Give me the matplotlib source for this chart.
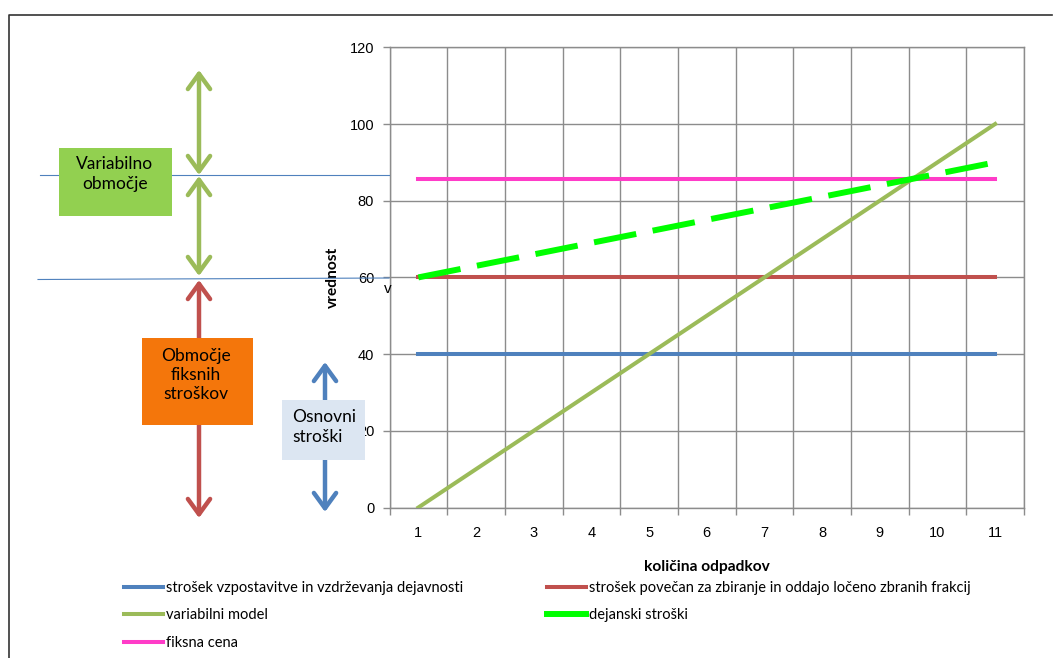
import matplotlib.pyplot as plt
from matplotlib.lines import Line2D
from matplotlib.patches import Rectangle

plt.rcParams['font.family'] = ['Lato', 'DejaVu Sans']

# podatki
kolicina = [1, 2, 3, 4, 5, 6, 7, 8, 9, 10, 11]
strosek_osnovni = [40, 40, 40, 40, 40, 40, 40, 40, 40, 40, 40]
strosek_locene = [60, 60, 60, 60, 60, 60, 60, 60, 60, 60, 60]
variabilni = [0, 10, 20, 30, 40, 50, 60, 70, 80, 90, 100]
dejanski = [60, 63, 66, 69, 72, 75, 78, 81, 84, 87, 90]
fiksna = [85.7, 85.7, 85.7, 85.7, 85.7, 85.7, 85.7, 85.7, 85.7, 85.7, 85.7]
y_ticks = [0, 20, 40, 60, 80, 100, 120]

c_modra = '#4F81BD'
c_rdeca = '#C0504D'
c_zelena = '#9BBB59'
c_svetlo = '#00FF00'
c_roza = '#FF3CC8'
c_mreza = '#8C8C8C'

W, H = 1053, 658
fig = plt.figure(figsize=(W / 100, H / 100), dpi=100)
ax = fig.add_axes([389.5 / W, 1 - 507.5 / H, (1024 - 389.5) / W, (507.5 - 47.3) / H])

ax.plot(kolicina, strosek_osnovni, color=c_modra, lw=2.9, zorder=3)
ax.plot(kolicina, strosek_locene, color=c_rdeca, lw=2.9, zorder=3)
ax.plot(kolicina, variabilni, color=c_zelena, lw=2.9, zorder=3)
ax.plot(kolicina, dejanski, color=c_svetlo, lw=4.3, dashes=(7.2, 2.8),
        dash_capstyle='butt', zorder=4)
ax.plot(kolicina, fiksna, color=c_roza, lw=2.9, zorder=3)

ax.set_xlim(0.5, 11.5)
ax.set_ylim(0, 120)
ax.set_yticks(y_ticks)
ax.set_xticks(kolicina)
ax.set_xticks([k - 0.5 for k in kolicina] + [11.5], minor=True)
ax.tick_params(axis='x', which='major', length=0, pad=13)
ax.tick_params(axis='x', which='minor', length=5, color=c_mreza, width=1)
ax.tick_params(axis='y', length=5, color=c_mreza, width=1, pad=6)
for lab in ax.get_xticklabels() + ax.get_yticklabels():
    lab.set_fontfamily('Liberation Sans')
    lab.set_fontsize(10.5)
ax.grid(axis='y', which='major', color=c_mreza, lw=1)
ax.grid(axis='x', which='minor', color=c_mreza, lw=1)
ax.set_axisbelow(True)
for s in ax.spines.values():
    s.set_color(c_mreza)
    s.set_linewidth(1)

ax.set_xlabel('količina odpadkov', fontsize=11.2, fontweight='bold', labelpad=15)
ax.set_ylabel('vrednost', fontsize=11.2, fontweight='bold', labelpad=7)

# legenda v dveh stolpcih
h = lambda c, lw=2.9: Line2D([], [], color=c, lw=lw)
handles = [h(c_modra), h(c_zelena), h(c_roza), h(c_rdeca), h(c_svetlo, 4.3)]
labels = ['strošek vzpostavitve in vzdrževanja dejavnosti', 'variabilni model',
          'fiksna cena', 'strošek povečan za zbiranje in oddajo ločeno zbranih frakcij',
          'dejanski stroški']
fig.legend(handles, labels, ncol=2, loc='upper left',
           bbox_to_anchor=(124 / W, 1 - 581 / H), frameon=False,
           fontsize=10.5, handlelength=2.65, handletextpad=0.2,
           columnspacing=5.8, labelspacing=0.92, borderpad=0, borderaxespad=0)

# opombe na levi strani (koordinate v pikslih)
ov = fig.add_axes([0, 0, 1, 1], zorder=5)
ov.set_xlim(0, W)
ov.set_ylim(H, 0)
ov.axis('off')
ov.patch.set_alpha(0)

ov.plot([9, 9, 1052], [H, 15, 15], color='#333333', lw=1.2)
ov.plot([40, 389], [175, 175], color=c_modra, lw=0.8, zorder=1)
ov.plot([38, 389], [279.5, 278], color=c_modra, lw=0.8, zorder=1)


def puscica(x, y1, y2, barva):
    ov.annotate('', xy=(x, y1), xytext=(x, y2), zorder=2,
                arrowprops=dict(arrowstyle='<->, head_length=0.55, head_width=0.4',
                                color=barva, lw=3.2, mutation_scale=20,
                                shrinkA=0, shrinkB=0, capstyle='round',
                                joinstyle='round'))


puscica(199, 70, 175, c_zelena)
puscica(199, 176, 276, c_zelena)
puscica(199, 280, 518, c_rdeca)
puscica(325, 362, 512, c_modra)

ov.add_patch(Rectangle((59, 148), 113, 68, color='#92D050', lw=0, zorder=4))
ov.text(115, 174, 'Variabilno\nobmočje', ha='center', va='center',
        fontsize=12.5, linespacing=1.25, zorder=5)

ov.add_patch(Rectangle((142, 338), 111, 87, color='#F4760B', lw=0, zorder=4))
ov.text(196, 375, 'Območje\nfiksnih\nstroškov', ha='center', va='center',
        fontsize=12.5, linespacing=1.25, zorder=5)

ov.add_patch(Rectangle((282, 400), 83, 60, color='#DCE6F2', lw=0, zorder=4))
ov.text(292, 427, 'Osnovni\nstroški', ha='left', va='center',
        fontsize=12.5, linespacing=1.25, zorder=5)

ov.text(388, 289, 'v', ha='center', va='center', fontsize=11,
        fontfamily='Liberation Sans')

fig.savefig('out.png', dpi=100)
